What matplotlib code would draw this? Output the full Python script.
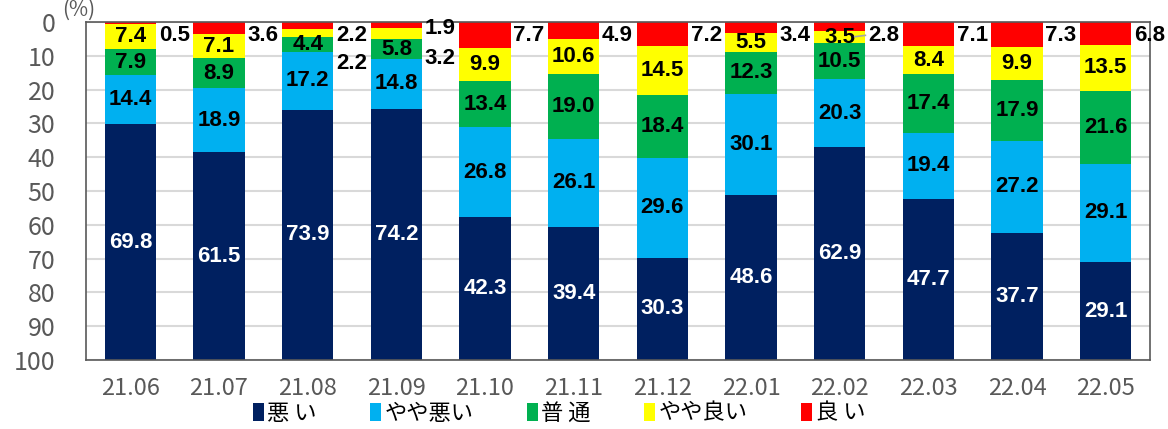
import matplotlib
matplotlib.use("Agg")
import matplotlib.pyplot as plt
from matplotlib.patches import Patch
import numpy as np

months = ["21.06", "21.07", "21.08", "21.09", "21.10", "21.11",
          "21.12", "22.01", "22.02", "22.03", "22.04", "22.05"]
good = [0.5, 3.6, 2.2, 1.9, 7.7, 4.9, 7.2, 3.4, 2.8, 7.1, 7.3, 6.8]
fairly_good = [7.4, 7.1, 2.2, 3.2, 9.9, 10.6, 14.5, 5.5, 3.5, 8.4, 9.9, 13.5]
normal = [7.9, 8.9, 4.4, 5.8, 13.4, 19.0, 18.4, 12.3, 10.5, 17.4, 17.9, 21.6]
fairly_bad = [14.4, 18.9, 17.2, 14.8, 26.8, 26.1, 29.6, 30.1, 20.3, 19.4, 27.2, 29.1]
bad = [69.8, 61.5, 73.9, 74.2, 42.3, 39.4, 30.3, 48.6, 62.9, 47.7, 37.7, 29.1]

legend_labels = ["悪 い", "やや悪い", "普 通", "やや良い", "良 い"]
colors = {"good": "#FF0000", "fairly_good": "#FFFF00", "normal": "#00B050",
          "fairly_bad": "#00B0F0", "bad": "#002060"}

plt.rcParams['font.family'] = ['Noto Sans CJK JP', 'DejaVu Sans']

fig = plt.figure(figsize=(11.68, 4.29), dpi=100)
ax = fig.add_axes([86/1168, 1-360/429, (1150-86)/1168, (360-22)/429])

x = np.arange(len(months))
w = 0.58
series = [("good", good), ("fairly_good", fairly_good), ("normal", normal),
          ("fairly_bad", fairly_bad), ("bad", bad)]

bottom = np.zeros(len(months))
label_font = dict(family=['Liberation Sans', 'DejaVu Sans'], fontweight='bold', fontsize=16)
for key, vals in series:
    vals = np.array(vals)
    ax.bar(x, vals, w, bottom=bottom, color=colors[key], zorder=2, linewidth=0)
    centers = bottom + vals / 2
    for i, v in enumerate(vals):
        xr = i + w / 2 + 0.03
        if key == "good":
            yy = 2.0 if i == 3 else 4.0
            ax.text(xr, yy, f"{v:.1f}", ha='left', va='center', color='black',
                    zorder=4, **label_font)
        elif key == "fairly_good" and i in (2, 3):
            yy = 12.3 if i == 2 else 10.8
            ax.text(xr, yy, f"{v:.1f}", ha='left', va='center', color='black',
                    zorder=4, **label_font)
        else:
            c = 'white' if key == "bad" else 'black'
            ax.text(i, centers[i], f"{v:.1f}", ha='center', va='center', color=c,
                    zorder=4, **label_font)
        if key == "fairly_good" and i == 8:
            ax.plot([i + 0.17, i + w / 2], [centers[i] - 0.2, centers[i] - 0.6],
                    color='#A6A6A6', lw=1.2, zorder=5)
    bottom = bottom + vals

ax.set_xlim(-0.5, len(months) - 0.5)
ax.set_ylim(100, 0)
ax.set_yticks(np.arange(0, 101, 10))
ax.set_xticks(x)
ax.set_xticklabels(months)
ax.yaxis.grid(True, color='#D9D9D9', lw=1.5, zorder=0)
ax.set_axisbelow(True)
ax.tick_params(axis='y', length=0, pad=22, labelsize=18, labelcolor='#595959')
ax.tick_params(axis='x', length=0, pad=12, labelsize=17, labelcolor='#595959')
for s in ax.spines.values():
    s.set_color('#595959')
    s.set_linewidth(1.2)

fig.text(62/1168, 1-10/429, "(%)", ha='left', va='center', fontsize=15, color='#595959')

order = ["bad", "fairly_bad", "normal", "fairly_good", "good"]
handles = [Patch(facecolor=colors[k], edgecolor='none') for k in order]
fig.legend(handles, legend_labels, loc='center', bbox_to_anchor=(559/1168, 1-413/429),
           ncol=5, frameon=False, fontsize=16, handlelength=0.5, handleheight=0.9,
           handletextpad=0.15, columnspacing=2.4)

fig.savefig("out.png", dpi=100)
